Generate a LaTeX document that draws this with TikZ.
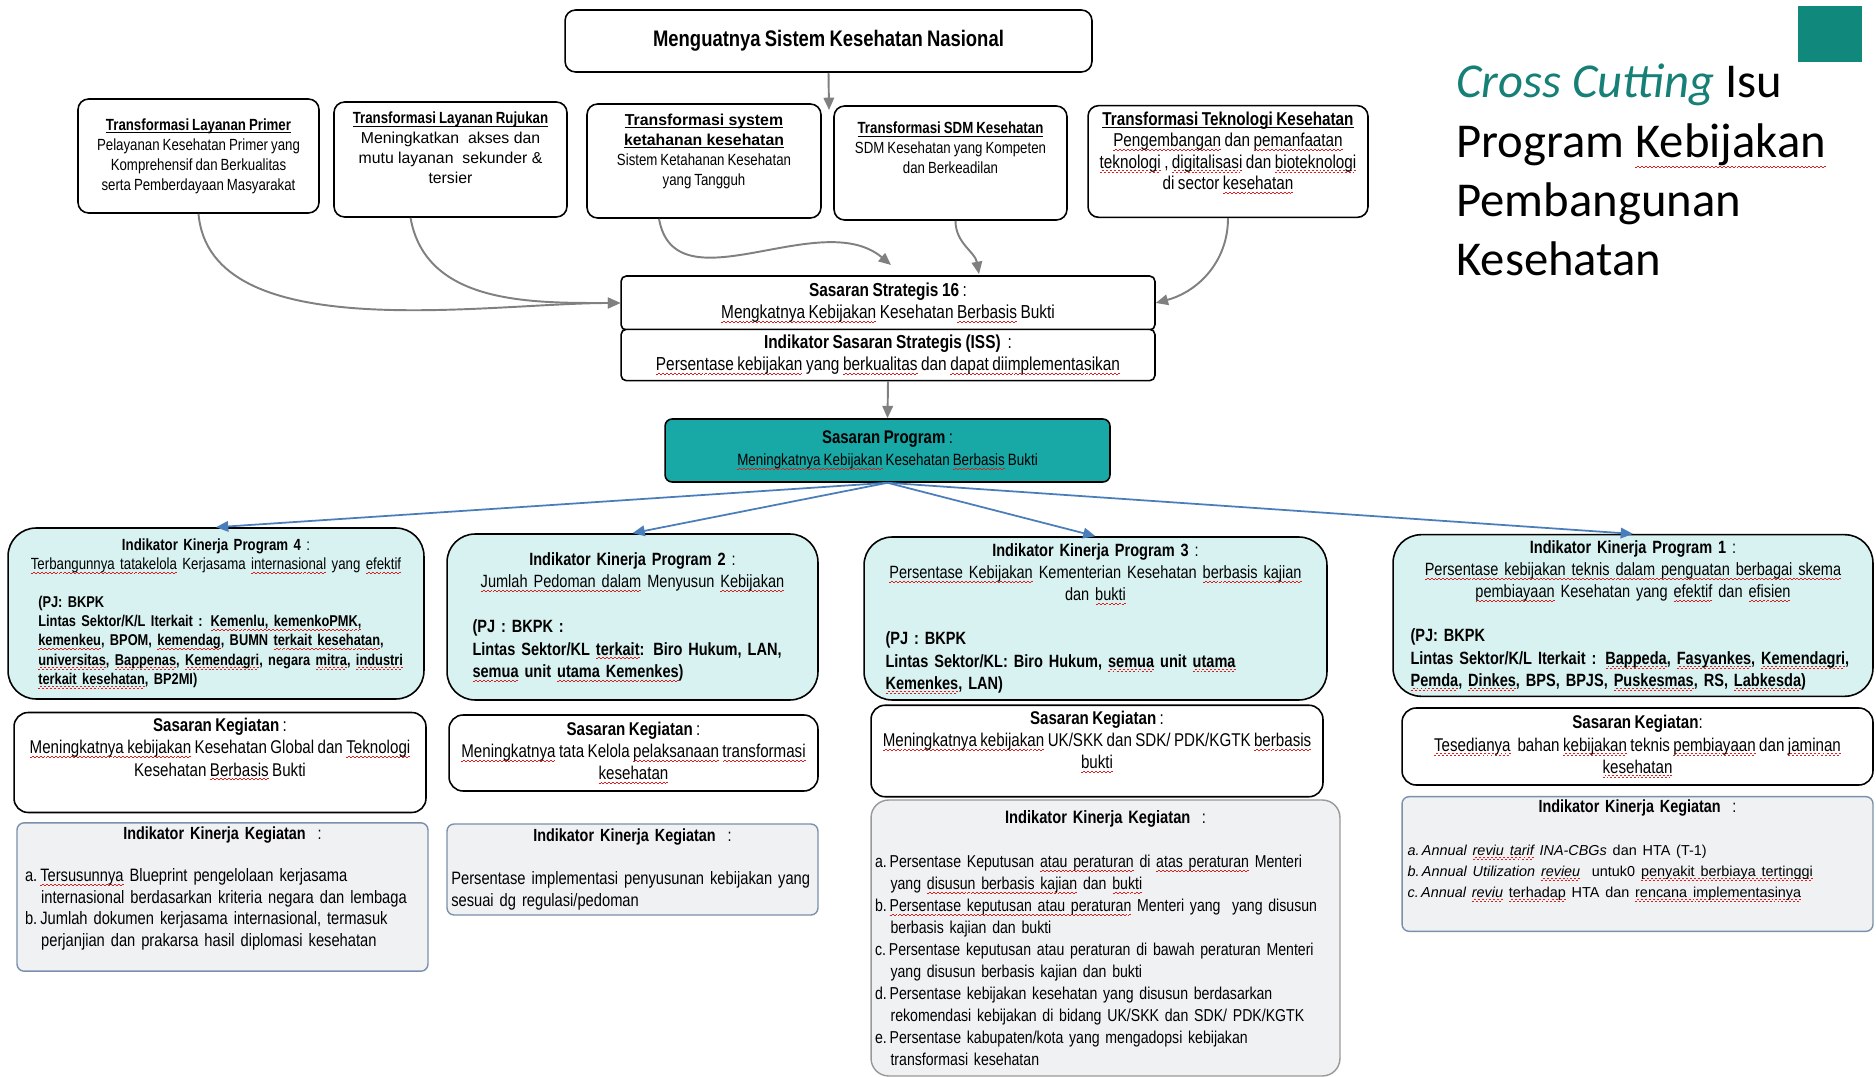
\documentclass[tikz,border=0pt]{standalone}
\usepackage{fontspec}
\setmainfont{Liberation Sans}[FakeStretch=0.82,WordSpace=0.82]
\newfontfamily\widefont{Liberation Sans}
\newfontfamily\titlefont{Carlito}
\usetikzlibrary{arrows.meta}
\setlength{\parindent}{0pt}

\definecolor{progteal}{RGB}{24,168,166}
\definecolor{ikpfill}{RGB}{216,242,241}
\definecolor{ikkfill}{RGB}{240,241,243}
\definecolor{ikkline}{RGB}{122,144,172}
\definecolor{linkgray}{RGB}{128,128,128}
\definecolor{linkblue}{RGB}{74,126,187}
\definecolor{titleteal}{RGB}{22,128,118}
\definecolor{markteal}{RGB}{16,136,124}
\definecolor{spellred}{RGB}{220,30,30}

\newcommand\fsz[2]{\fontsize{#1}{#2}\selectfont}
% red wavy underline and plain underline
\newsavebox\sqbox
\newsavebox\ulbox
\newcommand\sq[2][2.4pt]{\leavevmode\sbox\sqbox{#2}%
	\rlap{\raisebox{-#1}{\textcolor{spellred}{\hbox to \wd\sqbox{\xleaders\hbox{\rule{1.1pt}{0.45pt}\raisebox{0.7pt}{\rule{1.1pt}{0.45pt}}}\hfil}}}}\usebox\sqbox}
\newcommand\undl[1]{\leavevmode\sbox\ulbox{#1}\rlap{\raisebox{-1.6pt}{\rule{\wd\ulbox}{0.5pt}}}\usebox\ulbox}

\tikzset{trbox/.style={draw=black,line width=0.9pt,rounded corners=6pt,fill=white,align=center,font=\fsz{9.2}{11.4}}}
\tikzset{ssbox/.style={draw=black,line width=0.9pt,rounded corners=3pt,fill=white,align=center,font=\fsz{10.7}{12.4}}}
\tikzset{progbox/.style={draw=black,line width=0.9pt,rounded corners=4pt,fill=progteal,align=center,font=\fsz{10.4}{12.4}}}
\tikzset{ikpbox/.style={draw=black,line width=0.9pt,rounded corners=16pt,fill=ikpfill,align=left}}
\tikzset{skbox/.style={draw=black,line width=0.9pt,rounded corners=8pt,fill=white,align=center,font=\fsz{10.5}{12.6}}}
\tikzset{ikkbox/.style={draw=#1,line width=0.8pt,rounded corners=4pt,fill=ikkfill,align=left,inner sep=2pt}}
\tikzset{link/.style={draw=linkgray,line width=1.1pt,-{Triangle[length=7pt,width=6pt]}}}
\tikzset{bluelink/.style={draw=linkblue,line width=1pt,-{Triangle[length=7pt,width=6pt]}}}

\begin{document}
\begin{tikzpicture}[x=0.02cm,y=-0.02cm]
	\path[use as bounding box,fill=white] (0,0) rectangle (1876,1077);

	% title on the right
	\fill[markteal] (1798,6) rectangle (1862,62);
	\node[anchor=north west,inner sep=0pt,align=left,font=\titlefont\fsz{27.7}{33.6}] (title) at (1456,64)
		{{\color{titleteal}\itshape Cross Cutting} Isu\\Program \sq[6pt]{Kebijakan}\\Pembangunan\\Kesehatan};

	\node[trbox,minimum width=10.54cm,minimum height=1.24cm,font=\fsz{12.8}{14}\bfseries] (nasional) at (828.5,41) {Menguatnya Sistem Kesehatan Nasional};
	\coordinate (nasarrow) at (829,110);

	% the five transformations
	\node[trbox,minimum width=4.82cm,minimum height=2.28cm] (primer) at (198.5,156)
		{\textbf{\undl{Transformasi Layanan Primer}}\\Pelayanan Kesehatan Primer yang\\Komprehensif dan Berkualitas\\serta Pemberdayaan Masyarakat};
	\node[trbox,minimum width=4.66cm,minimum height=2.30cm] (rujukan) at (450.5,159.5)
		{\textbf{\undl{Transformasi Layanan Rujukan}}\\{\widefont\fsz{9}{11.4}Meningkatkan\ \ akses dan}\\{\widefont\fsz{9}{11.4}mutu layanan\ \ sekunder \&}\\{\widefont\fsz{9}{11.4}tersier}\\\rule{0pt}{12pt}};
	\node[trbox,minimum width=4.68cm,minimum height=2.28cm] (ketahanan) at (704,161)
		{{\widefont\bfseries\fsz{9}{11.4}\undl{Transformasi system}}\\{\widefont\bfseries\fsz{9}{11.4}\undl{ketahanan kesehatan}}\\Sistem Ketahanan Kesehatan\\yang Tangguh\\\rule{0pt}{10pt}};
	\node[trbox,minimum width=4.66cm,minimum height=2.28cm] (sdm) at (950.5,163)
		{\textbf{\undl{Transformasi SDM Kesehatan}}\\SDM Kesehatan yang Kompeten\\dan Berkeadilan\\\rule{0pt}{16pt}};
	\node[trbox,minimum width=5.60cm,minimum height=2.22cm,font=\fsz{10.6}{12.3}] (teknologi) at (1228,161.5)
		{\textbf{\undl{Transformasi Teknologi Kesehatan}}\\\sq{Pengembangan} dan \sq{pemanfaatan}\\\sq{teknologi} , \sq{digitalisasi} dan \sq{bioteknologi}\\di sector \sq{kesehatan}\\\rule{0pt}{8pt}};

	\node[ssbox,minimum width=10.68cm,minimum height=1.08cm] (ss16) at (888,303)
		{\textbf{Sasaran Strategis 16} :\\\sq{Mengkatnya Kebijakan} Kesehatan \sq{Berbasis} Bukti};
	\node[ssbox,minimum width=10.68cm,minimum height=0.96cm] (iss) at (888,355)
		{\textbf{Indikator Sasaran Strategis (ISS)}\ \ :\\\sq{Persentase kebijakan} yang \sq{berkualitas} dan \sq{dapat diimplementasikan}};
	\coordinate (tahanarrow) at (891,265);
	\coordinate (sdmarrow) at (979,274);

	\node[progbox,minimum width=8.9cm,minimum height=1.26cm] (prog) at (887.5,450.5)
		{\textbf{Sasaran Program} :\\{\fsz{9.3}{11}\sq{Meningkatnya Kebijakan} Kesehatan \sq{Berbasis} Bukti}};

	% indikator kinerja program
	\node[ikpbox,minimum width=8.32cm,minimum height=3.42cm,text width=7.95cm,font=\fsz{9.2}{10.9}] (ikp4) at (216,613.5)
		{\centering\textbf{Indikator Kinerja Program 4} :\\\sq{Terbangunnya tatakelola} Kerjasama \sq{internasional} yang \sq{efektif}\par\vspace{10.9pt}
		\raggedright\leftskip=0.42cm\bfseries\fsz{8.9}{10.9}(PJ: BKPK\\Lintas Sektor/K/L Iterkait : \sq{Kemenlu, kemenkoPMK,}\\\sq{kemenkeu}, BPOM, \sq{kemendag}, BUMN \sq{terkait kesehatan},\\\sq{universitas}, \sq{Bappenas}, \sq{Kemendagri}, negara \sq{mitra}, \sq{industri}\\\sq{terkait kesehatan}, BP2MI)\par};
	\node[ikpbox,minimum width=7.42cm,minimum height=3.32cm,text width=6.4cm,font=\fsz{10.1}{12.8}] (ikp2) at (632.5,617)
		{\centering\textbf{Indikator Kinerja Program 2} :\\\sq{Jumlah Pedoman dalam} Menyusun \sq{Kebijakan}\par\vspace{12.8pt}
		\raggedright\bfseries (PJ : BKPK :\\Lintas Sektor/KL \sq{terkait}: Biro Hukum, LAN,\\\sq{semua} unit \sq{utama Kemenkes})\par};
	\node[ikpbox,minimum width=9.26cm,minimum height=3.26cm,text width=8.4cm,font=\fsz{10.1}{12.6}] (ikp3) at (1095.5,618.5)
		{\centering\textbf{Indikator Kinerja Program 3} :\\\sq{Persentase Kebijakan} Kementerian Kesehatan \sq{berbasis kajian}\\dan \sq{bukti}\par\vspace{12.6pt}
		\raggedright\bfseries (PJ : BKPK\\Lintas Sektor/KL: Biro Hukum, \sq{semua} unit \sq{utama}\\\sq{Kemenkes}, LAN)\par};
	\node[ikpbox,minimum width=9.6cm,minimum height=3.14cm,text width=8.9cm,font=\fsz{10.1}{12.6}] (ikp1) at (1633,615.5)
		{\centering\textbf{Indikator Kinerja Program 1} :\\\sq{Persentase kebijakan teknis dalam penguatan berbagai skema}\\\sq{pembiayaan} Kesehatan yang \sq{efektif} dan \sq{efisien}\par\vspace{12.6pt}
		\raggedright\bfseries (PJ: BKPK\\Lintas Sektor/K/L Iterkait : \sq{Bappeda}, \sq{Fasyankes}, \sq{Kemendagri},\\\sq{Pemda}, \sq{Dinkes}, BPS, BPJS, \sq{Puskesmas}, RS, \sq{Labkesda})\par};

	% sasaran kegiatan
	\node[skbox,minimum width=8.24cm,minimum height=1.94cm] (sk1) at (220,762.5)
		{\textbf{Sasaran Kegiatan} :\\\sq{Meningkatnya kebijakan} Kesehatan Global dan \sq{Teknologi}\\Kesehatan \sq{Berbasis} Bukti\\\rule{0pt}{14pt}};
	\node[skbox,minimum width=7.38cm,minimum height=1.52cm] (sk2) at (633.5,753)
		{\textbf{Sasaran Kegiatan} :\\\sq{Meningkatnya} tata Kelola \sq{pelaksanaan} \sq{transformasi}\\\sq{kesehatan}};
	\node[skbox,minimum width=9.04cm,minimum height=1.72cm] (sk3) at (1097,751)
		{\textbf{Sasaran Kegiatan} :\\\sq{Meningkatnya kebijakan} UK/SKK dan SDK/ PDK/KGTK \sq{berbasis}\\\sq{bukti}\\\rule{0pt}{8pt}};
	\node[skbox,minimum width=9.42cm,minimum height=1.54cm] (sk4) at (1637.5,746.5)
		{\textbf{Sasaran Kegiatan}:\\\sq{Tesedianya}\ \ bahan \sq{kebijakan} teknis \sq{pembiayaan} dan \sq{jaminan}\\\sq{kesehatan}};

	% indikator kinerja kegiatan
	\node[ikkbox=ikkline,minimum width=8.22cm,minimum height=2.92cm,text width=7.9cm,font=\fsz{10.2}{12.2}] (ikk1) at (222.5,897)
		{\centering{\fsz{10}{12.2}\textbf{Indikator Kinerja Kegiatan}\ \ :}\par\vspace{12.2pt}\raggedright
		a.\,\sq{Tersusunnya} Blueprint pengelolaan kerjasama\\\hspace*{0.9em}internasional berdasarkan kriteria negara dan lembaga\\
		b.\,Jumlah dokumen kerjasama internasional, termasuk\\\hspace*{0.9em}perjanjian dan prakarsa hasil diplomasi kesehatan\par\rule{0pt}{2pt}};
	\node[ikkbox=ikkline,minimum width=7.42cm,minimum height=1.82cm,text width=7.25cm,font=\fsz{10.2}{12.2}] (ikk2) at (632.5,869.5)
		{\centering{\fsz{10}{12.2}\textbf{Indikator Kinerja Kegiatan}\ \ :}\par\vspace{12.2pt}\raggedright
		Persentase implementasi penyusunan kebijakan yang\\sesuai dg regulasi/pedoman\par};
	\node[ikkbox=gray!80,minimum width=9.38cm,minimum height=5.52cm,text width=9.22cm,font=\fsz{9.8}{12.5},rounded corners=10pt] (ikk3) at (1105.5,938)
		{\centering{\fsz{10.2}{12.5}\textbf{Indikator Kinerja Kegiatan}\ \ :}\par\vspace{12.5pt}\raggedright
		a.\,Persentase Keputusan \sq{atau peraturan} di \sq{atas peraturan} Menteri\\\hspace*{0.9em}yang \sq{disusun berbasis kajian} dan \sq{bukti}\\
		b.\,\sq{Persentase keputusan atau peraturan} Menteri yang\ \ yang disusun\\\hspace*{0.9em}berbasis kajian dan bukti\\
		c.\,Persentase keputusan atau peraturan di bawah peraturan Menteri\\\hspace*{0.9em}yang disusun berbasis kajian dan bukti\\
		d.\,Persentase kebijakan kesehatan yang disusun berdasarkan\\\hspace*{0.9em}rekomendasi kebijakan di bidang UK/SKK dan SDK/ PDK/KGTK\\
		e.\,Persentase kabupaten/kota yang mengadopsi kebijakan\\\hspace*{0.9em}transformasi kesehatan\par};
	\node[ikkbox=ikkline,minimum width=9.42cm,minimum height=2.68cm,text width=9.2cm,font=\fsz{10}{12}] (ikk4) at (1637.5,864)
		{\centering\textbf{Indikator Kinerja Kegiatan}\ \ :\par\vspace{12pt}\raggedright\widefont\fsz{8.2}{12}
		\textit{a.\,Annual \sq{reviu tarif} INA-CBGs} dan HTA (T-1)\\
		\textit{b.\,Annual Utilization \sq{revieu}}\ \ untuk0 \sq{penyakit berbiaya tertinggi}\\
		\textit{c.\,Annual \sq{reviu}} \sq{terhadap} HTA dan \sq{rencana implementasinya}\par\rule{0pt}{14pt}};

	% connectors
	\draw[link] (nasional.south) -- (nasarrow);
	\draw[link] (primer.south) to[out=-85,in=180,looseness=0.8] (ss16.west);
	\draw[link] ([xshift=-0.8cm]rujukan.south) to[out=-80,in=180] (ss16.west);
	\draw[link] ([xshift=-0.9cm]ketahanan.south) to[out=-80,in=140] (tahanarrow);
	\draw[link] ([xshift=0.1cm]sdm.south) to[out=-90,in=100] (sdmarrow);
	\draw[link] (teknologi.south) to[out=-90,in=15] (ss16.east);
	\draw[link] (iss.south) -- (prog.north);
	\draw[bluelink] (prog.south) -- (ikp4.north);
	\draw[bluelink] (prog.south) -- (ikp2.north);
	\draw[bluelink] (prog.south) -- (ikp3.north);
	\draw[bluelink] (prog.south) -- (ikp1.north);
\end{tikzpicture}
\end{document}
